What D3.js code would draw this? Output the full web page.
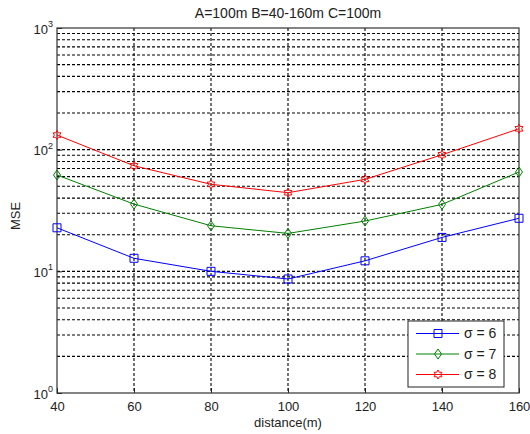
<!DOCTYPE html>
<html>
<head>
<meta charset="UTF-8">
<script src="https://d3js.org/d3.v7.min.js"></script>
<style>
  body { margin: 0; background: #fff; font-family: Arial, "Liberation Sans", sans-serif; }
  svg text { fill: #222; }
</style>
</head>
<body>
<svg id="chart"></svg>
<script>
const distances = [40, 60, 80, 100, 120, 140, 160];
const sigma6 = [22.8, 12.8, 10.0, 8.65, 12.2, 19.0, 27.3];
const sigma7 = [61.9, 35.7, 23.7, 20.5, 25.9, 35.5, 65.5];
const sigma8 = [131.8, 73.7, 51.9, 44.3, 57.0, 90.8, 148.5];
const seriesNames = ["σ = 6", "σ = 7", "σ = 8"];
const xTicks = [40, 60, 80, 100, 120, 140, 160];
const yDecades = [1, 10, 100, 1000];
const title = "A=100m B=40-160m C=100m";

const width = 530, height = 434;
const margin = { top: 28, right: 11, bottom: 41, left: 57 };
const iw = width - margin.left - margin.right;
const ih = height - margin.top - margin.bottom;

const svg = d3.select("#chart").attr("width", width).attr("height", height);
const g = svg.append("g").attr("transform", `translate(${margin.left},${margin.top})`);

const x = d3.scaleLinear().domain([40, 160]).range([0, iw]);
const y = d3.scaleLog().domain([1, 1000]).range([ih, 0]);

// grid lines (major + minor for log axis)
const minor = [];
for (let d = 1; d < 1000; d *= 10) for (let k = 1; k <= 9; k++) minor.push(d * k);
g.append("g").selectAll("line").data(minor.filter(v => v > 1))
  .enter().append("line")
  .attr("x1", 0).attr("x2", iw)
  .attr("y1", d => y(d)).attr("y2", d => y(d))
  .attr("stroke", "#000").attr("stroke-width", 1.1).attr("stroke-dasharray", "3,2");
g.append("g").selectAll("line").data(xTicks.slice(1, -1))
  .enter().append("line")
  .attr("y1", 0).attr("y2", ih)
  .attr("x1", d => x(d)).attr("x2", d => x(d))
  .attr("stroke", "#000").attr("stroke-width", 1.1).attr("stroke-dasharray", "3,2");

// axes
const xAxis = g.append("g").attr("transform", `translate(0,${ih})`)
  .call(d3.axisBottom(x).tickValues(xTicks).tickSize(-5).tickPadding(9));
xAxis.select(".domain").remove();
xAxis.selectAll("text").attr("font-size", 13).attr("font-family", "Arial, sans-serif");
xAxis.selectAll("line").attr("stroke", "#222");

const yAxis = g.append("g")
  .call(d3.axisLeft(y).tickValues(yDecades).tickSize(-5).tickFormat(""));
yAxis.select(".domain").remove();
yAxis.selectAll("line").attr("stroke", "#222");
yAxis.selectAll(".tick").append("text")
  .attr("x", -4).attr("dy", "0.4em").attr("text-anchor", "end")
  .attr("font-size", 13).attr("fill", "#222")
  .each(function(d) {
    const t = d3.select(this);
    t.append("tspan").text("10");
    t.append("tspan").attr("font-size", 9).attr("dy", "-0.75em").text(Math.round(Math.log10(d)));
  });

// frame
g.append("rect").attr("width", iw).attr("height", ih)
  .attr("fill", "none").attr("stroke", "#333").attr("stroke-width", 1.2);

// title & labels
svg.append("text").attr("x", margin.left + iw / 2).attr("y", 18)
  .attr("text-anchor", "middle").attr("font-size", 14).text(title);
svg.append("text").attr("x", margin.left + iw / 2).attr("y", 427)
  .attr("text-anchor", "middle").attr("font-size", 13).text("distance(m)");
svg.append("text").attr("transform", `translate(20,${216}) rotate(-90)`)
  .attr("text-anchor", "middle").attr("font-size", 13).text("MSE");

// series
const hexagram = (() => {
  const r = 4.5, pts = [];
  for (let i = 0; i < 12; i++) {
    const a = -Math.PI / 2 + i * Math.PI / 6;
    const rr = i % 2 === 0 ? r : r * 0.58;
    pts.push([rr * Math.cos(a), rr * Math.sin(a)]);
  }
  return "M" + pts.map(p => p.join(",")).join("L") + "Z";
})();
const markers = {
  square: "M-4,-4H4V4H-4Z",
  diamond: "M0,-5L3.5,0L0,5L-3.5,0Z",
  hexagram: hexagram
};
const series = [
  { name: seriesNames[0], values: sigma6, color: "#0000ff", marker: "square" },
  { name: seriesNames[1], values: sigma7, color: "#008000", marker: "diamond" },
  { name: seriesNames[2], values: sigma8, color: "#ff0000", marker: "hexagram" }
];
const line = d3.line().x((d, i) => x(distances[i])).y(d => y(d));

series.forEach(s => {
  g.append("path").attr("d", line(s.values))
    .attr("fill", "none").attr("stroke", s.color).attr("stroke-width", 1);
  g.selectAll(null).data(s.values).enter().append("path")
    .attr("d", markers[s.marker])
    .attr("transform", (d, i) => `translate(${x(distances[i])},${y(d)})`)
    .attr("fill", "none").attr("stroke", s.color).attr("stroke-width", 1);
});

// legend
const lg = svg.append("g").attr("transform", "translate(408,321)");
lg.append("rect").attr("width", 96).attr("height", 66)
  .attr("fill", "#fff").attr("stroke", "#222").attr("stroke-width", 1);
series.forEach((s, i) => {
  const yy = 12.5 + i * 20.5;
  lg.append("line").attr("x1", 8).attr("x2", 51).attr("y1", yy).attr("y2", yy)
    .attr("stroke", s.color).attr("stroke-width", 1);
  lg.append("path").attr("d", markers[s.marker])
    .attr("transform", `translate(30,${yy})`)
    .attr("fill", "none").attr("stroke", s.color).attr("stroke-width", 1);
  lg.append("text").attr("x", 56).attr("y", yy).attr("dy", "0.35em")
    .attr("font-size", 14).text(s.name);
});
</script>
</body>
</html>
